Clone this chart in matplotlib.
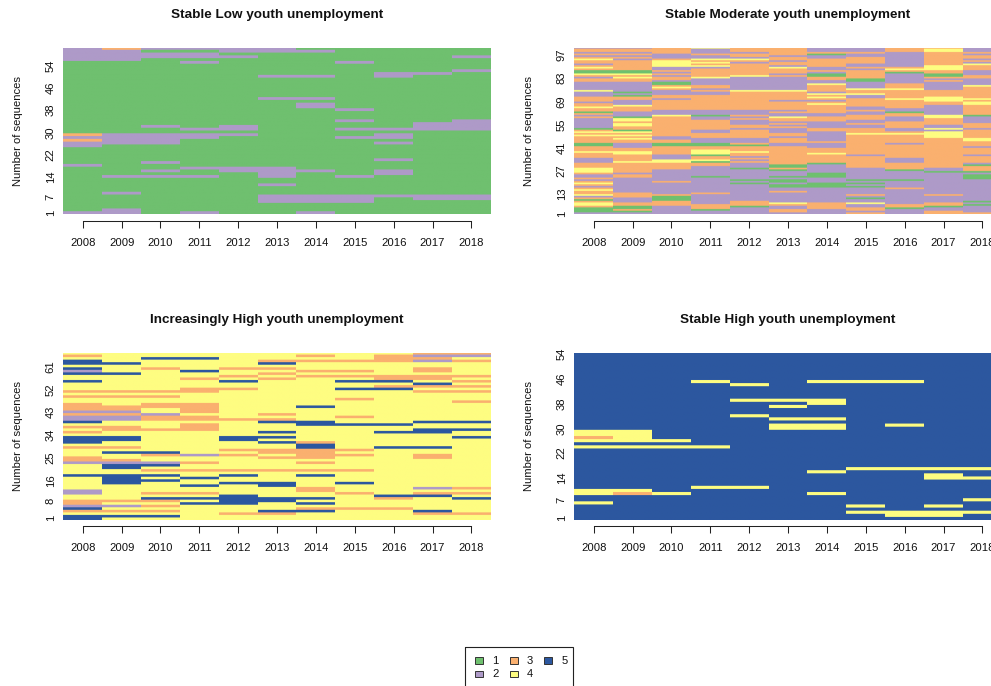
import numpy as np
import matplotlib
matplotlib.use('Agg')
import matplotlib.pyplot as plt
from matplotlib.colors import ListedColormap, BoundaryNorm
from matplotlib.patches import Rectangle

plt.rcParams['font.family'] = ['Liberation Sans', 'DejaVu Sans']

years = [2008, 2009, 2010, 2011, 2012, 2013, 2014, 2015, 2016, 2017, 2018]
states = ['1', '2', '3', '4', '5']
colors = ['#6FC06F', '#AE9AC8', '#FAB06F', '#FEFD81', '#2C579F']

titles = ['Stable Low youth unemployment', 'Stable Moderate youth unemployment',
          'Increasingly High youth unemployment', 'Stable High youth unemployment']
ticks_low = [1, 7, 14, 22, 30, 38, 46, 54]
ticks_mod = [1, 13, 27, 41, 55, 69, 83, 97]
ticks_inc = [1, 8, 16, 25, 34, 43, 52, 61]
ticks_high = [1, 7, 14, 22, 30, 38, 46, 54]

# sequences whose state differs from the main one, per year (sequence number from the bottom)
low_base = 1
low_other = [
    {2: [1, 18, 25, 26, 28, 56, 57, 58, 59, 60], 3: [27, 29]},
    {2: [1, 2, 8, 14, 26, 27, 28, 29, 56, 57, 58, 59], 3: [60]},
    {2: [14, 16, 19, 26, 27, 28, 29, 32, 57, 58, 60]},
    {2: [1, 14, 17, 28, 29, 31, 55, 57, 58, 60]},
    {2: [16, 17, 29, 31, 32, 57, 59, 60]},
    {2: [5, 6, 7, 11, 14, 15, 16, 17, 42, 50, 59, 60]},
    {2: [1, 5, 6, 7, 16, 39, 40, 42, 50, 59]},
    {2: [5, 6, 7, 14, 28, 31, 34, 38, 55]},
    {2: [7, 15, 16, 20, 26, 28, 29, 31, 50, 51]},
    {2: [6, 7, 31, 32, 33, 51]},
    {2: [6, 7, 31, 32, 33, 34, 52, 57]},
]

inc_base = 4
inc_other = [
    {5: [1, 2, 5, 18, 31, 32, 33, 39, 55, 58, 60, 62, 63], 2: [6, 11, 12, 23, 40, 41, 43, 59],
     3: [4, 7, 8, 24, 25, 29, 35, 37, 42, 44, 45, 46, 49, 51, 65]},
    {5: [2, 15, 16, 17, 18, 21, 22, 27, 32, 33, 58, 62], 2: [6, 23, 40, 41, 43],
     3: [4, 8, 24, 29, 36, 37, 42, 44, 45, 49, 51]},
    {5: [2, 9, 16, 18, 22, 27, 64], 2: [23, 42],
     3: [4, 6, 8, 11, 20, 26, 36, 40, 41, 45, 46, 49, 51, 60]},
    {5: [7, 9, 14, 17, 59, 64], 2: [26],
     3: [11, 20, 23, 36, 37, 38, 40, 41, 43, 44, 45, 46, 51, 52, 56]},
    {5: [7, 8, 9, 10, 15, 18, 32, 33, 55], 3: [3, 20, 26, 28, 40, 52, 57, 60]},
    {5: [4, 8, 9, 14, 15, 31, 33, 35, 39, 62],
     3: [3, 20, 25, 27, 28, 40, 42, 56, 58, 60, 63]},
    {5: [4, 7, 9, 18, 29, 30, 38, 39, 45],
     3: [5, 12, 13, 20, 23, 25, 26, 27, 28, 31, 57, 59, 63, 65]},
    {5: [15, 38, 52, 55], 3: [5, 11, 20, 26, 28, 41, 48, 57, 59, 63]},
    {5: [10, 29, 35, 38, 52, 55], 3: [5, 9, 53, 56, 57, 63, 64, 65]},
    {5: [4, 10, 29, 35, 36, 39, 54], 2: [13, 63, 65],
     3: [3, 11, 25, 26, 51, 53, 56, 57, 59, 60, 64, 66]},
    {5: [9, 33, 36, 39], 2: [65], 3: [3, 11, 13, 47, 51, 53, 55, 57, 63, 66]},
]

high_base = 5
high_other = [
    {4: [6, 9, 10, 24, 26, 28, 29], 3: [27]},
    {4: [10, 24, 26, 27, 28, 29], 3: [9]},
    {4: [9, 24, 26]},
    {4: [11, 24, 45]},
    {4: [11, 34, 39, 44]},
    {4: [30, 31, 33, 37, 39]},
    {4: [9, 16, 30, 31, 33, 38, 39, 45]},
    {4: [3, 5, 17, 45]},
    {4: [2, 3, 17, 31, 45]},
    {4: [2, 3, 5, 14, 15, 17]},
    {4: [3, 7, 14, 17]},
]

# one string per year, top sequence first, one character per sequence
mod_2008 = "2 33 2 3 2 3 4 33 2 3 4 3 11 4 3 2 33 22222 4 222 333 2 33 4 33 1 3 2 3 222222 1 3 4 3 4 3333 11 333 4 333 222 333 444 3 22 3 2 3 4 3 2 3 4 33 4 2 3 1 3 44 3 111 2"
mod_2009 = "2 33 2 3 2 3 2 333333 11 4 3 4 33 222222 1 2 1 33 222 4 333 222 1 44 3 44 33 1 4 3 4 3 4 33 222 33 44 3333 4 333333 2 33 2 2222 2222 333 222 33 11 3 1 2"
mod_2010 = "3333 222 3 4444 22 3 2 3 2 33 2 11 3 4 3 222 33 2 333333 222 4 333333333333 22 33 11 33333 222 44 3333 2222222 3 2222222 3 111 333 22222"
mod_2011 = "4 222 3 22 4 3 4 3 4 2 33333 4 2222 33 2 3 22 3 33333333 222 1 22 333333 22 333 222 11 33 444 1 33 4 1 33 222222 1 222222222 3 222222 333 1 22"
mod_2012 = "333 2 33 2 4 3 2 3333333 4 2222 2222 4 333 33333333 222 3 2 3 2 22 33 2 33333 222 3 1 333 4 33 2 3 2 3 2 22 1 222222 1 2 1 2222222222 333 1 2222"
mod_2013 = "33333 2 33 2 3 3 2 4 333 2 3 22222222 4 33333 2 33333 2 3 22 4 33 2 3 2 3 2 22 33 2 3 33 22 333333 33333 11 3 1 222 1 2 11 2 11 22 3 222222 4 3 22 33 2"
mod_2014 = "222 3 1 2 2 33333 22 3 2 11 33 22 4 3333 2 4 3 4 3 2 3 4 33333 22 333 2222 33 222222 3 222 333 4 33333 1 22222 111 222 111 222222222 3333 222"
mod_2015 = "222 3 22 33 33 22 3 2 33333 11 2222 4 33 4 22 33333 22 3 22 333 22 3 22 333 4 3333333 33333 2 333333 3 2222222 1 2 1 2 1 2222 3 2 1 22 4 2 2 33 2 3"
mod_2016 = "333 222222222 3 4 3 1 222222 333 4 33333 4 33333 22 1 33 222 3333 22 3 4 33333 2 33333333 222 3333 1 22222 1 2222 3 222222222 33 1 222"
mod_2017 = "3 44 33333333 444 33 11 3 2 3 22222 3333 444 33 222222 44 3333 22 4 2 4444 333333333333 333333 22 1 2222222222222 3 2222 33 1 22 33"
mod_2018 = "222 3 2 33 2 3 2 4 333 222 33 2222 4 3333 333 4 3 44 33333 3 1 2222 333 2 33333 44 333 2 3333 2 3333 2 1 333 1 2 1 11 2222222222222 1 2 1 2222 33"
mod_columns = [mod_2008, mod_2009, mod_2010, mod_2011, mod_2012, mod_2013, mod_2014,
               mod_2015, mod_2016, mod_2017, mod_2018]
n_low, n_mod, n_inc, n_high = 60, 101, 66, 54


def from_other(base, other, n):
    mat = np.full((n, len(years)), base)
    for j, year_states in enumerate(other):
        for s, rows in year_states.items():
            for r in rows:
                mat[r - 1, j] = s
    return mat


def from_strings(columns, n):
    mat = np.zeros((n, len(years)), dtype=int)
    for j, col in enumerate(columns):
        s = col.replace(' ', '').ljust(n, col[-1])[:n]
        mat[:, j] = [int(c) for c in s[::-1]]
    return mat


panels = [
    (from_other(low_base, low_other, n_low), ticks_low),
    (from_strings(mod_columns, n_mod), ticks_mod),
    (from_other(inc_base, inc_other, n_inc), ticks_inc),
    (from_other(high_base, high_other, n_high), ticks_high),
]

W, H = 991, 686
fig = plt.figure(figsize=(W / 100, H / 100), dpi=100)
cmap = ListedColormap(colors)
norm = BoundaryNorm(np.arange(0.5, 6.5), 5)

# left, top of each panel in pixels
lefts = [63.3, 574.3, 63.3, 574.3]
tops = [47.5, 47.5, 352.5, 352.5]
pw, ph = 427.5, 167

for i, (mat, yt) in enumerate(panels):
    ax = fig.add_axes([lefts[i] / W, 1 - (tops[i] + ph) / H, pw / W, ph / H])
    n = mat.shape[0]
    # each year drawn on its own, rows repeated so the smoothing only softens the row edges
    for j, y in enumerate(years):
        ax.imshow(np.repeat(mat[:, [j]], 4, axis=0), cmap=cmap, norm=norm, origin='lower', aspect='auto',
                  extent=(y - 0.5, y + 0.5, 0.5, n + 0.5),
                  interpolation='hanning', interpolation_stage='rgba')
    ax.set_xlim(years[0] - 0.5, years[-1] + 0.5)
    ax.set_ylim(0.5, n + 0.5)
    for s in ['top', 'left', 'right']:
        ax.spines[s].set_visible(False)
    ax.spines['bottom'].set_position(('outward', 5))
    ax.spines['bottom'].set_bounds(years[0], years[-1])
    ax.spines['bottom'].set_linewidth(0.75)
    ax.spines['bottom'].set_color('#222222')
    ax.set_xticks(years)
    ax.set_xticklabels([str(y) for y in years], fontsize=8.1, color='#111111')
    ax.tick_params(axis='x', length=5, width=0.75, pad=6.6, color='#222222')
    ax.set_yticks(yt)
    ax.set_yticklabels([str(v) for v in yt], rotation=90, va='center', fontsize=8.1, color='#111111')
    ax.tick_params(axis='y', length=0, pad=5.5)
    ax.set_ylabel('Number of sequences', fontsize=8.1, color='#111111')
    ax.yaxis.set_label_coords(-40 / pw, 0.5)
    fig.text((lefts[i] + pw / 2) / W, 1 - (tops[i] - 33.5 + 1.2) / H, titles[i], fontsize=9.7, fontweight='bold',
             ha='center', va='center', color='#111111')

# legend box runs off the bottom of the figure
leg = fig.add_axes([0, 0, 1, 1])
leg.set_xlim(0, W)
leg.set_ylim(H, 0)
leg.axis('off')
leg.add_patch(Rectangle((464.5, 646.7), 108.5, 60, fill=False, edgecolor='#222222', linewidth=0.8))
swatch_x = [474.5, 474.5, 509.5, 509.5, 544]
swatch_y = [657, 670.5, 657, 670.5, 657]
text_x = [495.5, 495.5, 530, 530, 565]
for k, lab in enumerate(states):
    leg.add_patch(Rectangle((swatch_x[k], swatch_y[k]), 8, 6.5, facecolor=colors[k],
                            edgecolor='#333333', linewidth=0.7))
    leg.text(text_x[k], swatch_y[k] + 3.5, lab, fontsize=8.1, ha='center', va='center', color='#111111')

fig.savefig('out.png', dpi=100)
